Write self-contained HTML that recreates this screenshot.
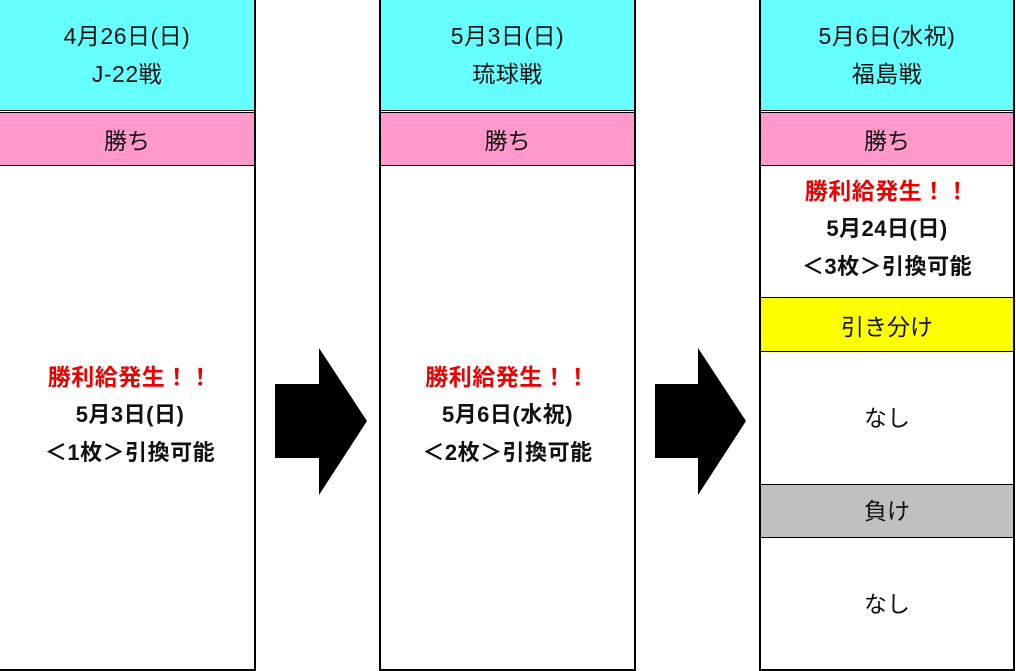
<!DOCTYPE html>
<html><head><meta charset="utf-8"><style>
body{margin:0;width:1016px;height:671px;background:#fff;position:relative;overflow:hidden;font-family:"Liberation Sans","Noto Sans CJK JP",sans-serif;}
.a{position:absolute;box-sizing:border-box;display:flex;flex-direction:column;align-items:center;justify-content:center;text-align:center;font-size:23px;color:#111;white-space:nowrap;}
.h{line-height:38px;letter-spacing:0.5px}
.l{position:absolute;background:#000;}
.b{font-weight:bold;line-height:38px;font-size:22px;letter-spacing:0.5px}
.r{color:#e00;font-size:23px}
</style></head><body>
<!-- col1 -->
<div class="a h" style="left:0;top:0;width:254px;height:110px;background:#66ffff"><div>4月26日(日)</div><div>J-22戦</div></div>
<div class="l" style="left:0;top:110px;width:254px;height:1px"></div>
<div class="l" style="left:0;top:112px;width:254px;height:1px"></div>
<div class="a" style="left:0;top:113px;width:254px;height:52px;background:#ff99cc">勝ち</div>
<div class="l" style="left:0;top:165px;width:254px;height:1px"></div>
<div class="a b" style="left:0;top:358px;width:260px;height:114px"><div class="r">勝利給発生！！</div><div>5月3日(日)</div><div>＜1枚＞引換可能</div></div>
<div class="l" style="left:254px;top:0;width:2px;height:671px"></div>
<div class="l" style="left:0;top:669px;width:256px;height:2px"></div>
<!-- col2 -->
<div class="l" style="left:379px;top:0;width:2px;height:671px"></div>
<div class="l" style="left:634px;top:0;width:2px;height:671px"></div>
<div class="a h" style="left:381px;top:0;width:253px;height:110px;background:#66ffff"><div>5月3日(日)</div><div>琉球戦</div></div>
<div class="l" style="left:381px;top:110px;width:253px;height:1px"></div>
<div class="l" style="left:381px;top:112px;width:253px;height:1px"></div>
<div class="a" style="left:381px;top:113px;width:253px;height:52px;background:#ff99cc">勝ち</div>
<div class="l" style="left:381px;top:165px;width:253px;height:1px"></div>
<div class="a b" style="left:381px;top:358px;width:253px;height:114px"><div class="r">勝利給発生！！</div><div>5月6日(水祝)</div><div>＜2枚＞引換可能</div></div>
<div class="l" style="left:379px;top:669px;width:257px;height:2px"></div>
<!-- col3 -->
<div class="l" style="left:759px;top:0;width:2px;height:671px"></div>
<div class="l" style="left:1013px;top:0;width:2px;height:671px"></div>
<div class="a h" style="left:761px;top:0;width:252px;height:110px;background:#66ffff"><div>5月6日(水祝)</div><div>福島戦</div></div>
<div class="l" style="left:761px;top:110px;width:252px;height:1px"></div>
<div class="l" style="left:761px;top:112px;width:252px;height:1px"></div>
<div class="a" style="left:761px;top:113px;width:252px;height:52px;background:#ff99cc">勝ち</div>
<div class="l" style="left:761px;top:165px;width:252px;height:1px"></div>
<div class="a b" style="left:761px;top:172px;width:252px;height:114px"><div class="r">勝利給発生！！</div><div>5月24日(日)</div><div>＜3枚＞引換可能</div></div>
<div class="l" style="left:761px;top:297px;width:252px;height:1px"></div>
<div class="a" style="left:761px;top:298px;width:252px;height:53px;background:#ffff00">引き分け</div>
<div class="l" style="left:761px;top:351px;width:252px;height:1px"></div>
<div class="a" style="left:761px;top:352px;width:252px;height:128px">なし</div>
<div class="l" style="left:761px;top:484px;width:252px;height:1px"></div>
<div class="a" style="left:761px;top:485px;width:252px;height:48px;background:#c0c0c0">負け</div>
<div class="l" style="left:761px;top:537px;width:252px;height:1px"></div>
<div class="a" style="left:761px;top:538px;width:252px;height:127px">なし</div>
<div class="l" style="left:759px;top:669px;width:256px;height:2px"></div>
<div style="position:absolute;left:761px;top:533px;width:252px;height:4px;background:#c0c0c0"></div>
<!-- arrows -->
<svg style="position:absolute;left:0;top:0" width="1016" height="671">
<polygon points="275,384 319,384 319,348 367,421 319,495 319,458 275,458" fill="#000"/>
<polygon points="655,384 698,384 698,348 746,421 698,495 698,458 655,458" fill="#000"/>
</svg>
</body></html>
